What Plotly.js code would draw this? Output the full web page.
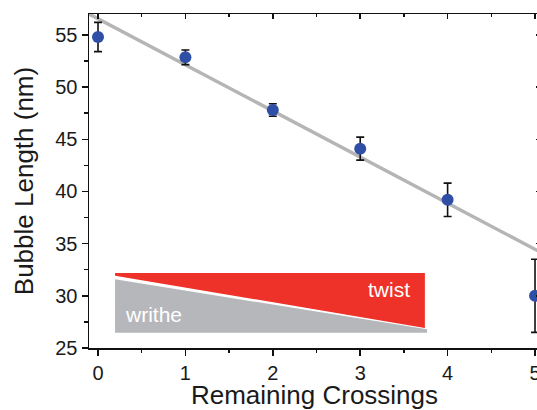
<!DOCTYPE html>
<html>
<head>
<meta charset="utf-8">
<script src="https://cdn.plot.ly/plotly-3.0.1.min.js"></script>
<style>
html,body{margin:0;padding:0;overflow:hidden;background:#fff;}
#chart{width:542px;height:410px;}
</style>
</head>
<body>
<div id="chart"></div>
<script>
// Data
var crossings = [0, 1, 2, 3, 4, 5];
var bubbleLength = [54.8, 52.85, 47.8, 44.1, 39.2, 30.0];
var lengthError = [1.4, 0.7, 0.6, 1.1, 1.6, 3.5];
var fitX = [-0.103, 5.057];
var fitY = [57.0, 34.2];
var xTickVals = [0, 1, 2, 3, 4, 5];
var yTickVals = [25, 30, 35, 40, 45, 50, 55];

var FONT = 'Liberation Sans, Arial, Helvetica, sans-serif';

var traces = [
  {
    x: fitX, y: fitY, type: 'scatter', mode: 'lines',
    line: {color: '#b5b5b5', width: 3.5},
    hoverinfo: 'skip', showlegend: false
  },
  {
    x: crossings, y: bubbleLength, type: 'scatter', mode: 'markers',
    marker: {color: '#2f4ea6', size: 12},
    error_y: {type: 'data', array: lengthError, visible: true, color: '#111', thickness: 1.6, width: 4},
    showlegend: false
  },
  {
    x: crossings, y: bubbleLength, xaxis: 'x2', yaxis: 'y2', type: 'scatter', mode: 'none',
    hoverinfo: 'skip', showlegend: false
  }
];

var baseAxis = {
  showgrid: false, zeroline: false, showline: true, linecolor: '#111', linewidth: 1.5,
  tickcolor: '#111', tickwidth: 1.5
};

var layout = {
  width: 542, height: 410,
  margin: {l: 89, r: 2, t: 14, b: 62},
  paper_bgcolor: '#fff', plot_bgcolor: '#fff',
  font: {family: FONT, color: '#1a1a1a'},
  xaxis: Object.assign({}, baseAxis, {
    range: [-0.103, 5.057], tickvals: xTickVals, ticks: 'outside', ticklen: 6,
    minor: {dtick: 0.5, ticks: 'outside', ticklen: 3.5, tickcolor: '#111', tickwidth: 1.5},
    tickfont: {size: 20, family: FONT, color: '#1a1a1a'},
    title: {text: 'Remaining Crossings', font: {size: 26, family: FONT, color: '#1a1a1a'}, standoff: 8},
    automargin: false
  }),
  yaxis: Object.assign({}, baseAxis, {
    range: [25, 57], tickvals: yTickVals, ticks: 'outside', ticklen: 6,
    minor: {dtick: 2.5, ticks: 'outside', ticklen: 3.5, tickcolor: '#111', tickwidth: 1.5},
    tickfont: {size: 20, family: FONT, color: '#1a1a1a'},
    title: {text: 'Bubble Length (nm)', font: {size: 26, family: FONT, color: '#1a1a1a'}, standoff: 14},
    automargin: false
  }),
  xaxis2: Object.assign({}, baseAxis, {
    overlaying: 'x', side: 'top', anchor: 'y', matches: 'x',
    range: [-0.103, 5.057], tickvals: xTickVals, ticks: 'inside', ticklen: 5,
    minor: {dtick: 0.5, ticks: 'inside', ticklen: 3, tickcolor: '#111', tickwidth: 1.5},
    showticklabels: false
  }),
  yaxis2: Object.assign({}, baseAxis, {
    overlaying: 'y', side: 'right', anchor: 'x',
    range: [25, 57], tickvals: yTickVals, ticks: 'inside', ticklen: 4,
    showticklabels: false
  }),
  shapes: [
    {type: 'path', xref: 'x', yref: 'y', layer: 'below',
     path: 'M 0.195,32.18 L 3.74,32.18 L 3.74,26.92 L 0.195,31.93 Z',
     fillcolor: '#ee3129', line: {width: 0}},
    {type: 'path', xref: 'x', yref: 'y', layer: 'below',
     path: 'M 0.195,31.58 L 3.765,26.79 L 3.765,26.47 L 0.195,26.47 Z',
     fillcolor: '#b6b7bb', line: {width: 0}}
  ],
  annotations: [
    {text: 'twist', xref: 'x', yref: 'y', x: 3.593, y: 30.6, xanchor: 'right', yanchor: 'middle',
     showarrow: false, font: {size: 21, family: FONT, color: '#ffffff'}},
    {text: 'writhe', xref: 'x', yref: 'y', x: 0.286, y: 28.2, xanchor: 'left', yanchor: 'middle',
     showarrow: false, font: {size: 21, family: FONT, color: '#ffffff'}}
  ]
};

Plotly.newPlot('chart', traces, layout, {displayModeBar: false, staticPlot: true});
</script>
</body>
</html>
